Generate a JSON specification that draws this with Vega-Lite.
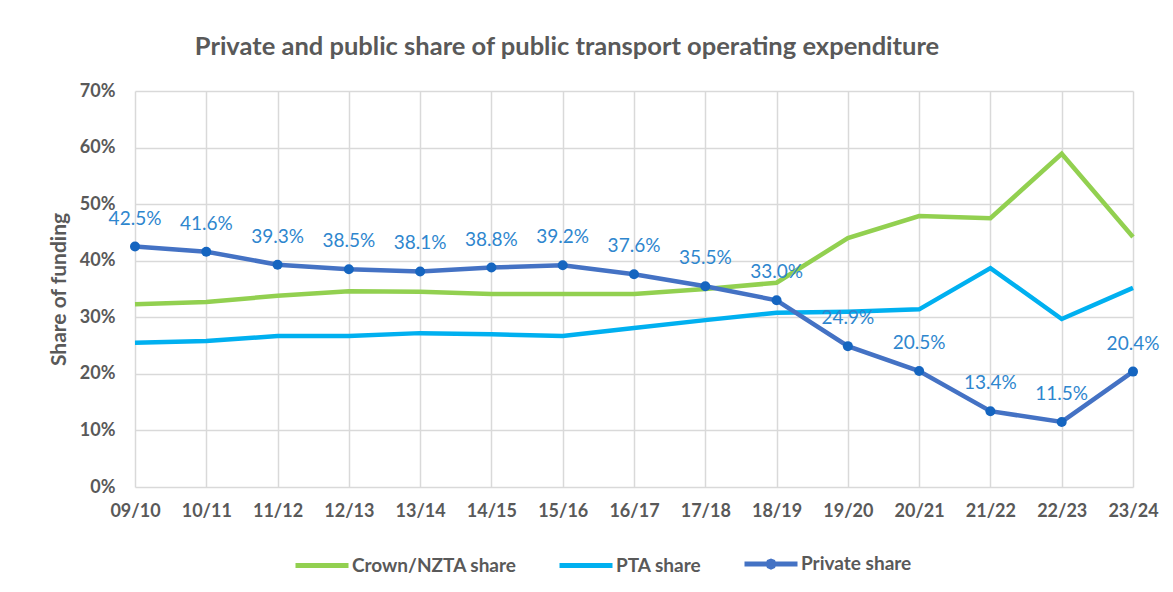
{
  "$schema": "https://vega.github.io/schema/vega-lite/v6.json",
  "width": 998,
  "height": 396,
  "autosize": {"type": "none"},
  "padding": {"left": 135, "top": 91, "right": 40, "bottom": 105},
  "background": "white",
  "title": {
    "text": "Private and public share of public transport operating expenditure",
    "anchor": "middle",
    "dx": -67,
    "font": "Lato",
    "fontSize": 25.5,
    "fontWeight": "bold",
    "color": "#595959",
    "offset": 22
  },
  "config": {
    "view": {"stroke": null},
    "axis": {
      "labelFont": "Lato",
      "labelFontWeight": "bold",
      "labelColor": "#595959",
      "titleFont": "Lato",
      "titleColor": "#595959",
      "gridColor": "#d9d9d9",
      "gridWidth": 1.5,
      "ticks": false,
      "domain": false
    }
  },
  "data": {
    "values": [
      {"year": "09/10", "series": "Crown/NZTA share", "share": 0.323},
      {"year": "10/11", "series": "Crown/NZTA share", "share": 0.327},
      {"year": "11/12", "series": "Crown/NZTA share", "share": 0.338},
      {"year": "12/13", "series": "Crown/NZTA share", "share": 0.346},
      {"year": "13/14", "series": "Crown/NZTA share", "share": 0.345},
      {"year": "14/15", "series": "Crown/NZTA share", "share": 0.341},
      {"year": "15/16", "series": "Crown/NZTA share", "share": 0.341},
      {"year": "16/17", "series": "Crown/NZTA share", "share": 0.341},
      {"year": "17/18", "series": "Crown/NZTA share", "share": 0.350},
      {"year": "18/19", "series": "Crown/NZTA share", "share": 0.361},
      {"year": "19/20", "series": "Crown/NZTA share", "share": 0.440},
      {"year": "20/21", "series": "Crown/NZTA share", "share": 0.479},
      {"year": "21/22", "series": "Crown/NZTA share", "share": 0.475},
      {"year": "22/23", "series": "Crown/NZTA share", "share": 0.589},
      {"year": "23/24", "series": "Crown/NZTA share", "share": 0.442},
      {"year": "09/10", "series": "PTA share", "share": 0.255},
      {"year": "10/11", "series": "PTA share", "share": 0.258},
      {"year": "11/12", "series": "PTA share", "share": 0.267},
      {"year": "12/13", "series": "PTA share", "share": 0.267},
      {"year": "13/14", "series": "PTA share", "share": 0.272},
      {"year": "14/15", "series": "PTA share", "share": 0.270},
      {"year": "15/16", "series": "PTA share", "share": 0.267},
      {"year": "16/17", "series": "PTA share", "share": 0.281},
      {"year": "17/18", "series": "PTA share", "share": 0.295},
      {"year": "18/19", "series": "PTA share", "share": 0.308},
      {"year": "19/20", "series": "PTA share", "share": 0.310},
      {"year": "20/21", "series": "PTA share", "share": 0.314},
      {"year": "21/22", "series": "PTA share", "share": 0.387},
      {"year": "22/23", "series": "PTA share", "share": 0.297},
      {"year": "23/24", "series": "PTA share", "share": 0.352},
      {"year": "09/10", "series": "Private share", "share": 0.425},
      {"year": "10/11", "series": "Private share", "share": 0.416},
      {"year": "11/12", "series": "Private share", "share": 0.393},
      {"year": "12/13", "series": "Private share", "share": 0.385},
      {"year": "13/14", "series": "Private share", "share": 0.381},
      {"year": "14/15", "series": "Private share", "share": 0.388},
      {"year": "15/16", "series": "Private share", "share": 0.392},
      {"year": "16/17", "series": "Private share", "share": 0.376},
      {"year": "17/18", "series": "Private share", "share": 0.355},
      {"year": "18/19", "series": "Private share", "share": 0.330},
      {"year": "19/20", "series": "Private share", "share": 0.249},
      {"year": "20/21", "series": "Private share", "share": 0.205},
      {"year": "21/22", "series": "Private share", "share": 0.134},
      {"year": "22/23", "series": "Private share", "share": 0.115},
      {"year": "23/24", "series": "Private share", "share": 0.204}
    ]
  },
  "encoding": {
    "x": {
      "field": "year",
      "type": "ordinal",
      "sort": null,
      "scale": {"type": "point", "padding": 0},
      "axis": {"title": null, "labelAngle": 0, "labelFontSize": 18, "labelPadding": 15, "grid": true}
    },
    "y": {
      "field": "share",
      "type": "quantitative",
      "scale": {"domain": [0, 0.7]},
      "axis": {
        "title": "Share of funding",
        "titleFontSize": 21,
        "titleFontWeight": "bold",
        "titlePadding": 10,
        "format": ".0%",
        "values": [0, 0.1, 0.2, 0.3, 0.4, 0.5, 0.6, 0.7],
        "labelFontSize": 18,
        "labelPadding": 20,
        "grid": true
      }
    }
  },
  "layer": [
    {
      "mark": {"type": "line", "strokeWidth": 4.5},
      "encoding": {
        "color": {
          "field": "series",
          "type": "nominal",
          "scale": {
            "domain": ["Crown/NZTA share", "PTA share", "Private share"],
            "range": ["#92D050", "#00B0F0", "#4472C4"]
          },
          "legend": {
            "title": null,
            "orient": "none",
            "direction": "horizontal",
            "legendX": 158,
            "legendY": 444,
            "labelFont": "Lato",
            "labelFontSize": 19,
            "labelFontWeight": "bold",
            "labelColor": "#595959",
            "labelOffset": 1,
            "labelLimit": 400,
            "symbolType": "stroke",
            "symbolSize": 2809,
            "symbolStrokeWidth": 5,
            "columnPadding": 32,
            "encode": {
              "symbols": {
                "update": {
                  "shape": {"signal": "datum.value === 'Private share' ? 'M-1,0H1M0.11,0L0.078,0.078L0,0.11L-0.078,0.078L-0.11,0L-0.078,-0.078L0,-0.11L0.078,-0.078Z' : 'stroke'"}
                }
              }
            }
          }
        }
      }
    },
    {
      "transform": [{"filter": "datum.series === 'Private share'"}],
      "mark": {"type": "point", "filled": true, "opacity": 1, "size": 100, "color": "#1565C0"}
    },
    {
      "transform": [{"filter": "datum.series === 'Private share'"}],
      "mark": {
        "type": "text",
        "font": "Lato",
        "fontSize": 19,
        "color": "#2E86CE",
        "baseline": "middle",
        "dy": -28
      },
      "encoding": {
        "text": {"field": "share", "type": "quantitative", "format": ".1%"}
      }
    }
  ]
}
